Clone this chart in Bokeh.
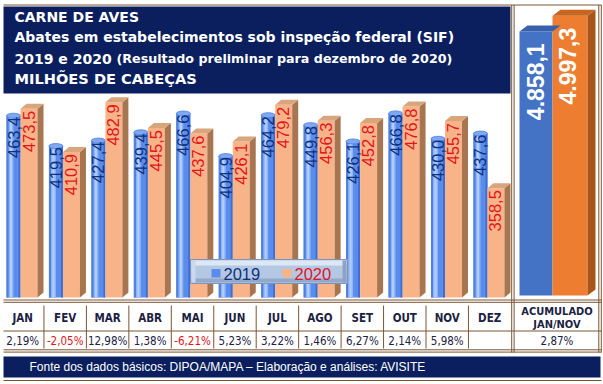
import math
from bokeh.plotting import figure
from bokeh.models import Range1d
from bokeh.core.properties import value
from bokeh.embed import file_html
from bokeh.resources import INLINE

# ---------------- data ----------------
months = ["JAN", "FEV", "MAR", "ABR", "MAI", "JUN", "JUL", "AGO", "SET", "OUT", "NOV", "DEZ"]
series_names = ["2019", "2020"]
v2019 = [463.4, 419.5, 427.4, 439.4, 466.6, 404.9, 464.2, 449.8, 426.1, 466.8, 430.0, 437.6]
v2020 = [473.5, 410.9, 482.9, 445.5, 437.6, 426.1, 479.2, 456.3, 452.8, 476.8, 455.7, 358.5]
pct_change = [2.19, -2.05, 12.98, 1.38, -6.21, 5.23, 3.22, 1.46, 6.27, 2.14, 5.98, None]
acc_values = [4858.1, 4997.3]
acc_pct = 2.87
acc_header = ["ACUMULADO", "JAN/NOV"]
title1 = "CARNE DE AVES"
title2 = "Abates em estabelecimentos sob inspeção federal (SIF)"
title3a = "2019 e 2020"
title3b = "(Resultado preliminar para dezembro de 2020)"
title4 = "MILHÕES DE CABEÇAS"
source_txt = "Fonte dos dados básicos: DIPOA/MAPA – Elaboração e análises: AVISITE"

# ---------------- layout (page pixel coordinates) ----------------
W, H = 602, 382
X0, Y0 = 0, 0
month_w = 42.45
month_x0 = 1.0
base_val, base_y, px_val = 200.0, 297.0, 0.69
acc_base_val, acc_base_y, acc_px = 2500.0, 295.0, 0.112

NAVY = "#0b1f5e"
BROWN = "#7a5534"
TXT = "#1b2242"
RED = "#e3141b"
BLUE_TXT = "#10307c"

def du(px):
    return px / month_w

def dv(px):
    return px / px_val

def da(px):
    return px / acc_px

def fmt1(v):
    s = f"{v:,.1f}"
    return s.replace(",", "X").replace(".", ",").replace("X", ".")

p = figure(width=W, height=H, x_range=Range1d(X0, X0 + W), y_range=Range1d(Y0 + H, Y0),
           x_axis_location=None, y_axis_location=None, toolbar_location=None,
           output_backend="svg", min_border=0, outline_line_color=None,
           background_fill_color="white", border_fill_color="white")
p.xgrid.visible = False
p.ygrid.visible = False

p.extra_x_ranges = {"m": Range1d((X0 - month_x0) / month_w, (X0 + W - month_x0) / month_w)}
p.extra_y_ranges = {
    "v": Range1d(base_val - (Y0 + H - base_y) / px_val, base_val + (base_y - Y0) / px_val),
    "a": Range1d(acc_base_val - (Y0 + H - acc_base_y) / acc_px, acc_base_val + (acc_base_y - Y0) / acc_px),
}

F_HDR = value("DejaVu Sans")
F_ARIAL = value("Liberation Sans")
F_NARROW = value("DejaVu Sans Condensed")

# ---------------- header ----------------
p.quad(left=[3], right=[510], top=[6], bottom=[93], fill_color=NAVY, line_color=None)
hdr = [(title1, 14, 16.5, "14px"), (title2, 14, 36.3, "14px"), (title3a, 14, 58.3, "14px"),
       (title3b, 116, 58.3, "12.7px"), (title4, 14, 78.3, "14.6px")]
for t, x, y, fs in hdr:
    p.text(x=[x], y=[y], text=[t], text_font=F_HDR, text_font_style="bold", text_font_size=fs,
           text_color="white", text_baseline="middle", text_align="left")

# ---------------- monthly bars ----------------
idx = list(range(len(months)))
bx = [i + du(12) for i in idx]
# cylinder body
p.vbar(x=bx, width=du(14), top=v2019, bottom=base_val, fill_color="#5a8cec", line_color=None,
       x_range_name="m", y_range_name="v")
p.vbar(x=[i + du(9.5) for i in idx], width=du(5), top=v2019, bottom=base_val, fill_color="#8db4f7",
       line_color=None, x_range_name="m", y_range_name="v")
p.vbar(x=[i + du(9.5) for i in idx], width=du(2), top=v2019, bottom=base_val, fill_color="#b3cefb",
       line_color=None, x_range_name="m", y_range_name="v")
p.vbar(x=[i + du(18) for i in idx], width=du(2), top=v2019, bottom=base_val, fill_color="#3f6ed3",
       line_color=None, x_range_name="m", y_range_name="v")
p.vbar(x=[i + du(6) for i in idx], width=du(2), top=v2019, bottom=base_val, fill_color="#4f80e2",
       line_color=None, x_range_name="m", y_range_name="v")
p.ellipse(x=bx, y=v2019, width=14, height=5, width_units="screen", height_units="screen",
          fill_color="#7ea8f4", line_color="#4d7ddd", line_width=0.8, x_range_name="m", y_range_name="v")

# orange boxes
ox = [i + du(27.5) for i in idx]
p.vbar(x=ox, width=du(17), top=v2020, bottom=base_val, fill_color="#f8b488", line_color=None,
       x_range_name="m", y_range_name="v")
side_xs, side_ys, top_xs, top_ys = [], [], [], []
for i, v in zip(idx, v2020):
    xl, xr = i + du(19), i + du(36)
    side_xs.append([xr, xr + du(6), xr + du(6), xr])
    side_ys.append([v, v + dv(5), base_val + dv(5), base_val])
    top_xs.append([xl, xl + du(6), xr + du(6), xr])
    top_ys.append([v, v + dv(5), v + dv(5), v])
p.patches(xs=side_xs, ys=side_ys, fill_color="#a77650", line_color=None, x_range_name="m", y_range_name="v")
p.patches(xs=top_xs, ys=top_ys, fill_color="#d8a57d", line_color=None, x_range_name="m", y_range_name="v")

# value labels
p.text(x=bx, y=[v - dv(1) for v in v2019], text=[fmt1(v) for v in v2019], angle=math.pi / 2,
       text_align="right", text_baseline="middle", text_font=F_ARIAL, text_font_size="16.5px",
       text_color=BLUE_TXT, x_range_name="m", y_range_name="v")
p.text(x=[i + du(27) for i in idx], y=[v - dv(2) for v in v2020], text=[fmt1(v) for v in v2020],
       angle=math.pi / 2, text_align="right", text_baseline="middle", text_font=F_ARIAL,
       text_font_size="16.5px", text_color=RED, x_range_name="m", y_range_name="v")

# ---------------- legend ----------------
p.quad(left=[190], right=[347], top=[259], bottom=[283], fill_color="#b4c8e4", line_color="#7f94b6")
p.quad(left=[191], right=[346], top=[260], bottom=[265], fill_color="#dde8f6", line_color=None)
p.quad(left=[191], right=[346], top=[278], bottom=[282], fill_color="#93a9cb", line_color=None)
p.quad(left=[191], right=[195], top=[260], bottom=[282], fill_color="#c9d8ee", line_color=None)
p.quad(left=[342], right=[346], top=[260], bottom=[282], fill_color="#8ea3c4", line_color=None)
p.quad(left=[211, 282], right=[220, 291], top=[268.5, 268.5], bottom=[277, 277],
       fill_color=["#5a8cec", "#f8b488"], line_color=None)
p.text(x=[223, 294], y=[273, 273], text=series_names, text_font=F_ARIAL, text_font_size="16.5px",
       text_color=[BLUE_TXT, RED], text_baseline="middle", text_align="left")

# ---------------- accumulated panel ----------------
acc_x = [535.5, 569.5]
acc_w = [33, 35]
acc_front = ["#4472c4", "#ed7d31"]
acc_top = ["#3860ad", "#c8651f"]
p.vbar(x=acc_x, width=acc_w, top=acc_values, bottom=acc_base_val, fill_color=acc_front,
       line_color=None, y_range_name="a")
a_top_xs, a_top_ys = [], []
for cx, w, v in zip(acc_x, acc_w, acc_values):
    xl, xr = cx - w / 2, cx + w / 2
    a_top_xs.append([xl, xl + 8, xr + 8, xr])
    a_top_ys.append([v, v + da(6), v + da(6), v])
p.patches(xs=a_top_xs, ys=a_top_ys, fill_color=acc_top, line_color=None, y_range_name="a")
xr = acc_x[1] + acc_w[1] / 2
v = acc_values[1]
p.patch(x=[xr, xr + 8, xr + 8, xr], y=[v, v + da(6), acc_base_val + da(6), acc_base_val],
        fill_color="#a9561c", line_color=None, y_range_name="a")
p.text(x=[535, 567], y=[v_ - da(12) for v_ in acc_values], text=[fmt1(v_) for v_ in acc_values],
       angle=math.pi / 2, text_align="right", text_baseline="middle", text_font=F_ARIAL,
       text_font_style="bold", text_font_size="23px", text_color="white", y_range_name="a")

# ---------------- table ----------------
p.text(x=[i + 0.5 for i in idx], y=[317.5] * 12, text=months, text_font=F_NARROW, text_font_style="bold",
       text_font_size="11.5px", text_color=TXT, text_align="center", text_baseline="middle", x_range_name="m")
pct_txt = ["" if c is None else f"{c:.2f}%".replace(".", ",") for c in pct_change]
pct_col = [RED if (c is not None and c < 0) else TXT for c in pct_change]
p.text(x=[i + 0.5 for i in idx], y=[340.8] * 12, text=pct_txt, text_font=F_NARROW,
       text_font_size="11.5px", text_color=pct_col, text_align="center", text_baseline="middle", x_range_name="m")
p.text(x=[556.5, 556.5], y=[310.8, 323.8], text=acc_header, text_font=F_NARROW, text_font_style="bold",
       text_font_size="11px", text_color=TXT, text_align="center", text_baseline="middle")
p.text(x=[556.5], y=[340.8], text=[f"{acc_pct:.2f}%".replace(".", ",")], text_font=F_NARROW,
       text_font_size="11.5px", text_color=TXT, text_align="center", text_baseline="middle")

# separators
p.segment(x0=[i + 1 for i in idx[:-1]], x1=[i + 1 for i in idx[:-1]], y0=[305] * 11, y1=[348] * 11,
          line_color=BROWN, line_width=1, x_range_name="m")
hy = [4.5, 299.5, 301.8, 330.5, 349.3, 351.6, 380]
p.segment(x0=[3] * len(hy), x1=[601] * len(hy), y0=hy, y1=hy, line_color=BROWN, line_width=1)
vx = [511.2, 513.6, 598.3, 600.8]
p.segment(x0=vx, x1=vx, y0=[4.5] * 4, y1=[352] * 4, line_color=BROWN, line_width=1)

# ---------------- footer ----------------
p.quad(left=[3], right=[600], top=[356], bottom=[377], fill_color=NAVY, line_color=None)
p.text(x=[29], y=[366.5], text=[source_txt], text_font=F_ARIAL, text_font_size="12px",
       text_color="white", text_baseline="middle", text_align="left")

open("out.html", "w").write(file_html(p, INLINE))
